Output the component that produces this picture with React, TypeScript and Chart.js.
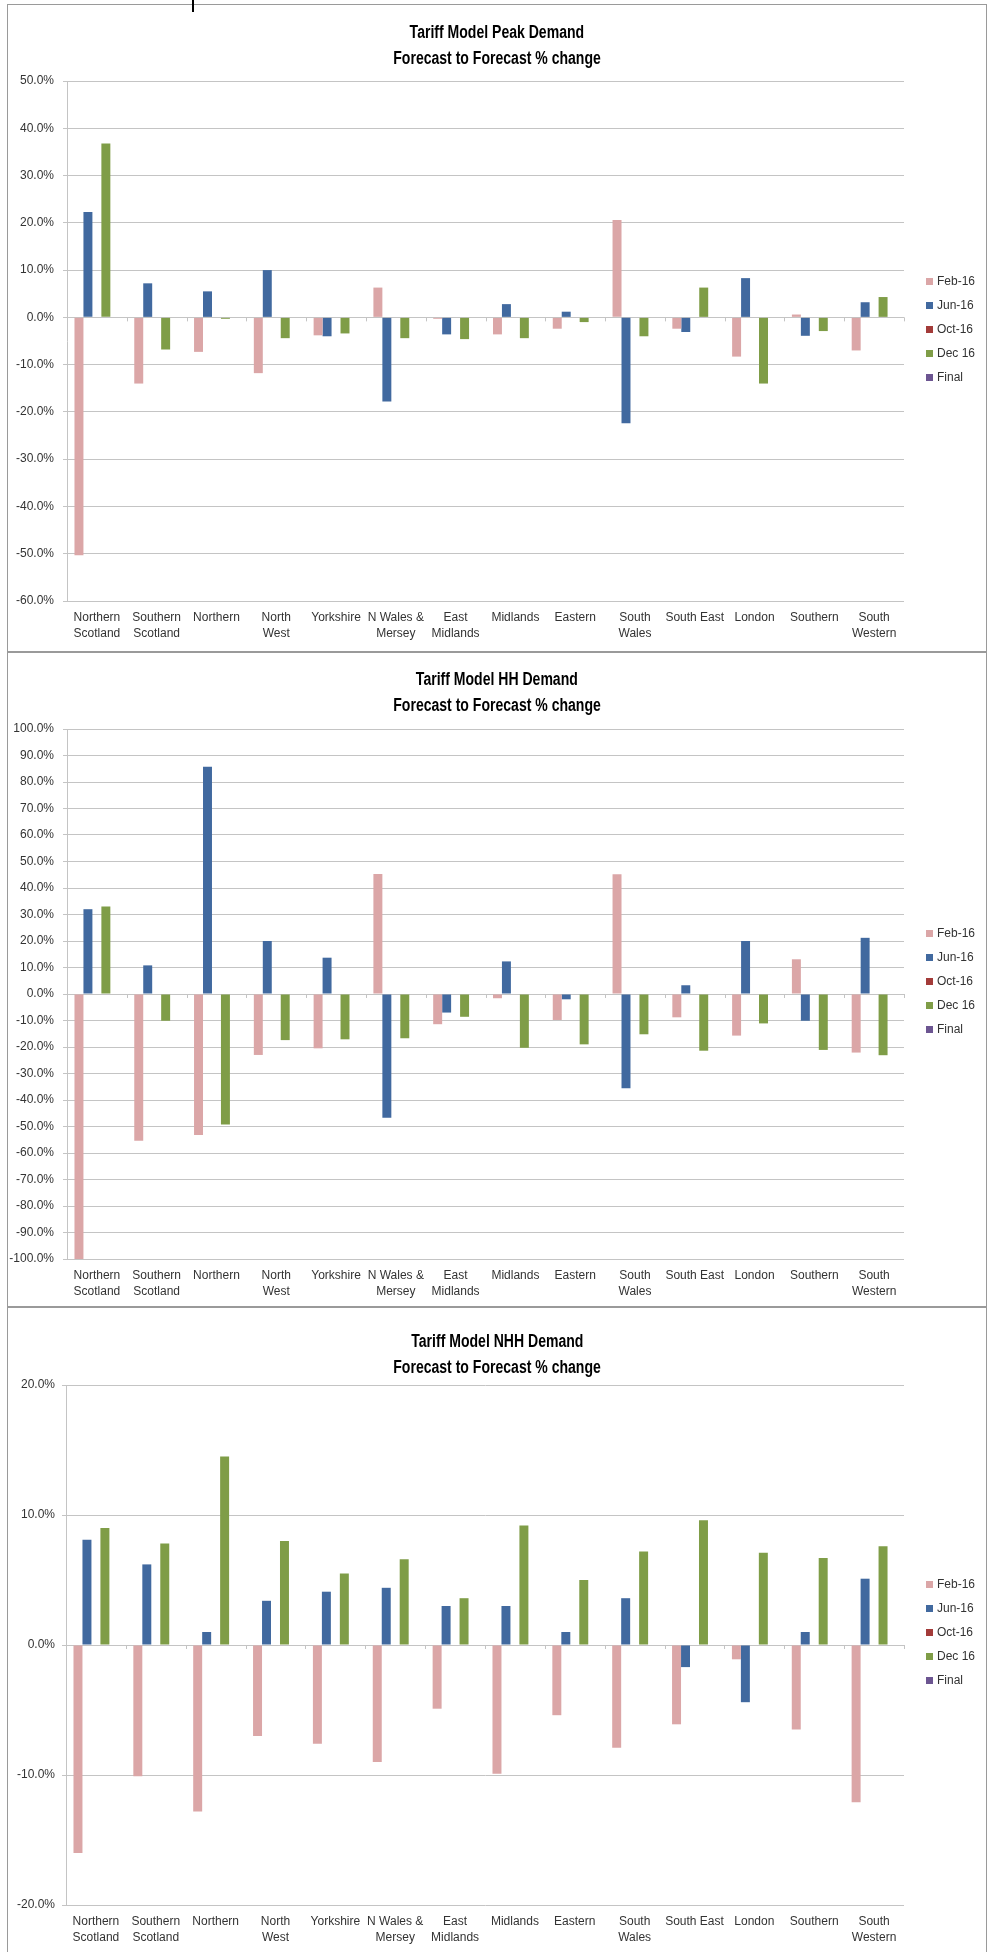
import React, { useEffect, useRef } from 'react';
import { Chart, registerables } from 'chart.js';

Chart.register(...registerables);

const categories: (string | string[])[] = [
  ['Northern', 'Scotland'], ['Southern', 'Scotland'], 'Northern', ['North', 'West'], 'Yorkshire',
  ['N Wales &', 'Mersey'], ['East', 'Midlands'], 'Midlands', 'Eastern', ['South', 'Wales'],
  'South East', 'London', 'Southern', ['South', 'Western'],
];

const seriesNames = ['Feb-16', 'Jun-16', 'Oct-16', 'Dec 16', 'Final'];
const seriesColors = ['#dba6a7', '#41699f', '#a33b39', '#7f9d47', '#6c5591'];

// Tariff Model Peak Demand
const peakFeb = [-50.3, -14.0, -7.3, -11.8, -3.8, 6.3, -0.3, -3.6, -2.4, 20.6, -2.4, -8.3, 0.6, -7.0];
const peakJun = [22.3, 7.2, 5.5, 10.0, -4.0, -17.8, -3.6, 2.8, 1.2, -22.4, -3.1, 8.3, -3.9, 3.2];
const peakOct = [0, 0, 0, 0, 0, 0, 0, 0, 0, 0, 0, 0, 0, 0];
const peakDec = [36.8, -6.8, -0.3, -4.4, -3.4, -4.4, -4.6, -4.4, -1.0, -4.0, 6.3, -14.0, -2.9, 4.3];
const peakFinal = [0, 0, 0, 0, 0, 0, 0, 0, 0, 0, 0, 0, 0, 0];

// Tariff Model HH Demand
const hhFeb = [-100.0, -55.4, -53.2, -23.0, -20.5, 45.3, -11.4, -1.6, -9.8, 45.2, -8.8, -15.7, 13.1, -22.1];
const hhJun = [32.0, 10.8, 85.8, 20.0, 13.7, -46.7, -7.0, 12.3, -2.0, -35.6, 3.3, 20.0, -10.1, 21.2];
const hhOct = [0, 0, 0, 0, 0, 0, 0, 0, 0, 0, 0, 0, 0, 0];
const hhDec = [33.0, -10.1, -49.2, -17.4, -17.1, -16.7, -8.6, -20.3, -19.0, -15.2, -21.4, -11.1, -21.1, -23.1];
const hhFinal = [0, 0, 0, 0, 0, 0, 0, 0, 0, 0, 0, 0, 0, 0];

// Tariff Model NHH Demand
const nhhFeb = [-16.0, -10.1, -12.8, -7.0, -7.6, -9.0, -4.9, -9.9, -5.4, -7.9, -6.1, -1.1, -6.5, -12.1];
const nhhJun = [8.1, 6.2, 1.0, 3.4, 4.1, 4.4, 3.0, 3.0, 1.0, 3.6, -1.7, -4.4, 1.0, 5.1];
const nhhOct = [0, 0, 0, 0, 0, 0, 0, 0, 0, 0, 0, 0, 0, 0];
const nhhDec = [9.0, 7.8, 14.5, 8.0, 5.5, 6.6, 3.6, 9.2, 5.0, 7.2, 9.6, 7.1, 6.7, 7.6];
const nhhFinal = [0, 0, 0, 0, 0, 0, 0, 0, 0, 0, 0, 0, 0, 0];

const peakTitle = ['Tariff Model Peak Demand', 'Forecast to Forecast % change'];
const hhTitle = ['Tariff Model HH Demand', 'Forecast to Forecast % change'];
const nhhTitle = ['Tariff Model NHH Demand', 'Forecast to Forecast % change'];

const FONT = '"Liberation Sans", Arial, sans-serif';
const TITLE_FONT = '"Liberation Sans", Arial, sans-serif';
const GRID = '#c4c4c4';
const TEXT = '#333333';

const zeroTicks = {
  id: 'zeroTicks',
  beforeDatasetsDraw(chart: any) {
    const x = chart.scales.x;
    const y = chart.scales.y;
    const y0 = y.getPixelForValue(0);
    const ctx = chart.ctx;
    ctx.save();
    ctx.strokeStyle = GRID;
    ctx.lineWidth = 1;
    ctx.beginPath();
    for (let i = 0; i <= categories.length; i++) {
      const px = Math.round(x.getPixelForValue(i - 0.5)) + 0.5;
      ctx.moveTo(px, y0);
      ctx.lineTo(px, y0 + 4);
    }
    ctx.stroke();
    ctx.restore();
  },
};

type Spec = {
  title: string[];
  series: number[][];
  min: number;
  max: number;
  panelTop: number;
  panelHeight: number;
  plotTop: number;
  xAxisH: number;
  legendFirst: number;
  titleOff: number;
  yWidth: number;
  yPad: number;
  bottomBorder: boolean;
};

const specs: Spec[] = [
  { title: peakTitle, series: [peakFeb, peakJun, peakOct, peakDec, peakFinal], min: -60, max: 50,
    panelTop: 4, panelHeight: 648, plotTop: 76, xAxisH: 50, legendFirst: 281, titleOff: 28, yWidth: 59, yPad: 9, bottomBorder: true },
  { title: hhTitle, series: [hhFeb, hhJun, hhOct, hhDec, hhFinal], min: -100, max: 100,
    panelTop: 652, panelHeight: 655, plotTop: 76, xAxisH: 47, legendFirst: 933, titleOff: 27, yWidth: 59, yPad: 9, bottomBorder: true },
  { title: nhhTitle, series: [nhhFeb, nhhJun, nhhOct, nhhDec, nhhFinal], min: -20, max: 20,
    panelTop: 1307, panelHeight: 646, plotTop: 77, xAxisH: 48, legendFirst: 1584, titleOff: 34, yWidth: 58, yPad: 7, bottomBorder: false },
];

const CANVAS_W = 978;

function Panel({ spec }: { spec: Spec }) {
  const ref = useRef<HTMLCanvasElement | null>(null);
  const canvasH = spec.panelHeight - (spec.bottomBorder ? 2 : 1);

  useEffect(() => {
    if (!ref.current) return;
    const chart = new Chart(ref.current, {
      type: 'bar',
      data: {
        labels: categories,
        datasets: seriesNames.map((name, i) => ({
          label: name,
          data: spec.series[i],
          backgroundColor: seriesColors[i],
          borderWidth: 0,
          categoryPercentage: 0.75,
          barPercentage: 1.0,
        })),
      },
      options: {
        animation: false,
        responsive: false,
        devicePixelRatio: 1,
        layout: { padding: { top: spec.plotTop, left: 0, right: 82, bottom: 0 } },
        plugins: {
          legend: { display: false },
          title: { display: false },
          tooltip: { enabled: false },
        },
        scales: {
          x: {
            grid: { display: false, drawTicks: false },
            border: { display: false },
            ticks: {
              color: TEXT,
              padding: 9,
              autoSkip: false,
              maxRotation: 0,
              minRotation: 0,
              font: { family: FONT, size: 12, lineHeight: 16 / 12 },
            },
            afterFit: (scale: any) => { scale.height = spec.xAxisH; },
          },
          y: {
            min: spec.min,
            max: spec.max,
            ticks: {
              stepSize: 10,
              color: TEXT,
              padding: spec.yPad,
              font: { family: FONT, size: 12 },
              callback: (v: any) => Number(v).toFixed(1) + '%',
            },
            grid: { color: GRID, lineWidth: 1, tickLength: 4, drawTicks: true },
            border: { display: true, color: GRID, width: 1 },
            afterFit: (scale: any) => { scale.width = spec.yWidth; },
          },
        },
      },
      plugins: [zeroTicks],
    });
    return () => chart.destroy();
  }, [spec]);

  return (
    <>
      <div
        style={{
          position: 'absolute', left: 7, top: spec.panelTop, width: 978, height: spec.panelHeight - 2,
          borderTop: '1px solid #9a9a9a', borderLeft: '1px solid #9a9a9a', borderRight: '1px solid #9a9a9a',
          borderBottom: spec.bottomBorder ? '1px solid #9a9a9a' : 'none', background: '#fff',
        }}
      />
      <canvas
        ref={ref}
        width={CANVAS_W}
        height={canvasH}
        style={{ position: 'absolute', left: 8, top: spec.panelTop + 1, width: CANVAS_W, height: canvasH }}
      />
      <div
        style={{
          position: 'absolute', left: 7, width: 980, top: spec.panelTop + spec.titleOff - 13,
          textAlign: 'center', fontFamily: TITLE_FONT, fontWeight: 'bold', fontSize: 18, lineHeight: '26px', color: '#000',
        }}
      >
        {spec.title.map((t) => (
          <div key={t}>
            <span style={{ display: 'inline-block', transform: 'scaleX(0.78)', transformOrigin: 'center', whiteSpace: 'nowrap' }}>{t}</span>
          </div>
        ))}
      </div>
      {seriesNames.map((name, i) => (
        <div
          key={name}
          style={{
            position: 'absolute', left: 926, top: spec.legendFirst + i * 24 - 8, height: 16,
            display: 'flex', alignItems: 'center', fontFamily: FONT, fontSize: 12, color: TEXT, whiteSpace: 'nowrap',
          }}
        >
          <span style={{ display: 'inline-block', width: 7, height: 7, background: seriesColors[i], marginRight: 4 }} />
          {name}
        </div>
      ))}
    </>
  );
}

export default function App() {
  useEffect(() => {
    document.body.style.margin = '0';
    document.body.style.background = '#fff';
  }, []);
  return (
    <div style={{ position: 'relative', width: 987, height: 1953, overflow: 'hidden', background: '#fff' }}>
      {specs.map((s, i) => (<Panel key={i} spec={s} />))}
      <div style={{ position: 'absolute', left: 192, top: 0, width: 2, height: 12, background: '#000' }} />
    </div>
  );
}
